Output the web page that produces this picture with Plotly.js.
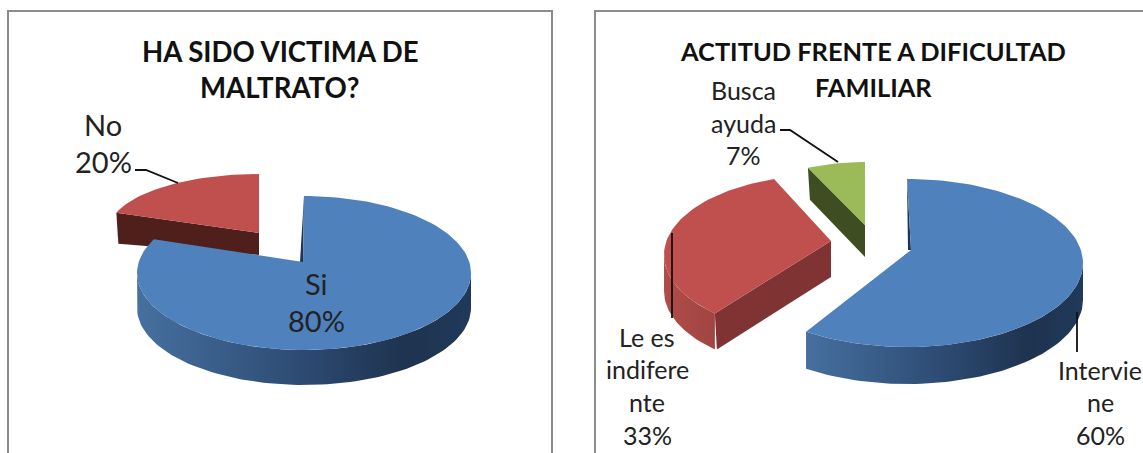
<!DOCTYPE html>
<html><head><meta charset="utf-8">
<script src="https://cdn.plot.ly/plotly-3.0.1.min.js"></script>
<style>html,body{margin:0;padding:0;background:#fff;overflow:hidden}#c{width:1143px;height:453px}</style>
</head><body><div id="c"></div>
<script>
// ---- data ----
const maltratoCategories = ['Si', 'No'];
const maltratoValues = [80, 20];
const actitudCategories = ['Interviene', 'Le es indiferente', 'Busca ayuda'];
const actitudValues = [60, 33, 7];

// ---- geometry of the 3-D look (style only) ----
const BLUE='#4f81bd', RED='#c0504d', GREEN='#9bbb59';
const blueSide=[[0,'#46709f'],[0.45,'#2f4e77'],[0.8,'#1e334f'],[1,'#20395a']];
const charts=[
 {cats:maltratoCategories, vals:maltratoValues, slices:[
   {top:BLUE, cx:304, cy:273, rx:167, ry:77, ax:303, ay:262, depth:35, endShift:8, side:blueSide, sliver:'#1f3552', z:1},
   {top:RED, cx:259, cy:230, rx:150, ry:56, ax:259, ay:233, depth:31, apexDepth:22, cut:'#4f1f1c', z:0}
 ]},
 {cats:actitudCategories, vals:actitudValues, slices:[
   {top:BLUE, cx:907, cy:263, rx:176, ry:84, ax:911, ay:250, depth:37, endShift:-1, side:blueSide, sliver:'#1f3552', z:2},
   {top:RED, cx:824, cy:255, rx:160, ry:80, ax:831, ay:241, depth:36, shift:7, side:[[0,'#b04c49'],[1,'#a04542']], cut:'#7f3332', z:1},
   {top:GREEN, cx:865, cy:222, rx:134, ry:60, ax:865, ay:225, depth:32, cut:'#3f4d22', z:0}
 ]}
];

function pt(s,deg,dy){const r=deg*Math.PI/180;return [s.cx+s.rx*Math.sin(r), s.cy-s.ry*Math.cos(r)+(dy||0)];}
function arc(s,a,b,dy){const out=[],n=Math.max(2,Math.ceil(Math.abs(b-a)/2));for(let i=0;i<=n;i++)out.push(pt(s,a+(b-a)*i/n,dy));return out;}
function poly(points,fill){
  const t={type:'scatter',mode:'lines',x:points.map(p=>p[0]),y:points.map(p=>p[1]),fill:'toself',line:{width:0,color:'rgba(0,0,0,0)'},hoverinfo:'skip',showlegend:false};
  if(typeof fill==='string')t.fillcolor=fill; else t.fillgradient={type:'horizontal',colorscale:fill};
  return t;
}
let traces=[];
charts.forEach(ch=>{
  const total=ch.vals.reduce((a,b)=>a+b,0);
  let acc=0; const built=[];
  ch.vals.forEach((v,i)=>{
    const s=ch.slices[i], shift=s.shift||0;
    const a0=acc/total*360+shift, a1=(acc+v)/total*360+(i===ch.vals.length-1?0:shift)+(s.endShift||0); acc+=v;
    const layer=[];
    const apex=[s.ax,s.ay];
    if(s.side){
      const lo=Math.max(a0,90), hi=Math.min(a1,270);
      if(hi>lo) layer.push(poly(arc(s,lo,hi,0).concat(arc(s,hi,lo,s.depth)),s.side));
    }
    if(s.cut){
      const p=pt(s,a0), d=s.apexDepth||s.depth;
      layer.push(poly([apex,p,[p[0]+2,p[1]+s.depth],[apex[0],apex[1]+d]],s.cut));
    }
    if(s.sliver){
      const p=pt(s,a0);
      layer.push(poly([p,apex,[apex[0]-3,apex[1]]],s.sliver));
    }
    layer.push(poly([apex].concat(arc(s,a0,a1,0)),s.top));
    built.push({z:s.z,layer});
  });
  built.sort((a,b)=>a.z-b.z).forEach(b=>{traces=traces.concat(b.layer);});
});

// ---- text ----
const F='Lato, Carlito, sans-serif';
const titles=[[280,51,'HA SIDO VICTIMA DE',27.6],[280,87,'MALTRATO?',27.6],[873,51,'ACTITUD FRENTE A DIFICULTAD',25.4],[873,87,'FAMILIAR',25.4]];
const labels=[
 [103,124,maltratoCategories[1],29],[103,161,maltratoValues[1]+'%',29],
 [316,283,maltratoCategories[0],29],[316,320,maltratoValues[0]+'%',29],
 [743,90,'Busca',25],[743,123,'ayuda',25],[743,155,actitudValues[2]+'%',25],
 [647,337,'Le es',25],[647,369,'indifere',25],[647,402,'nte',25],[647,435,actitudValues[1]+'%',25],
 [1100,370,'Intervie',25],[1100,402,'ne',25],[1100,435,actitudValues[0]+'%',25]
];
const ann=[];
titles.forEach(t=>ann.push({x:t[0],y:t[1],text:'<b>'+t[2]+'</b>',xref:'x',yref:'y',showarrow:false,xanchor:'center',yanchor:'middle',font:{family:F,size:t[3],color:'#111'}}));
labels.forEach(t=>ann.push({x:t[0],y:t[1],text:String(t[2]),xref:'x',yref:'y',showarrow:false,xanchor:'center',yanchor:'middle',font:{family:F,size:t[3],color:'#222'}}));

const ln=(pts)=>({type:'path',xref:'x',yref:'y',layer:'above',path:'M'+pts.map(p=>p.join(',')).join('L'),line:{color:'#111',width:1.8}});
const frame=(x0,x1)=>({type:'path',xref:'x',yref:'y',layer:'below',path:`M${x0},460L${x0},11L${x1},11L${x1},460`,line:{color:'#8c8c8c',width:2}});
const shapes=[frame(8,552),frame(595,1160),
  ln([[135,170],[146,170],[178,183]]),
  ln([[780,130],[790,130],[838,162]]),
  ln([[672,233],[672,318]]),
  ln([[1077,312],[1077,352]])];

Plotly.newPlot('c',traces,{
  width:1143,height:453,margin:{l:0,r:0,t:0,b:0},paper_bgcolor:'#fff',plot_bgcolor:'#fff',showlegend:false,
  xaxis:{range:[0,1143],visible:false,fixedrange:true},
  yaxis:{range:[453,0],visible:false,fixedrange:true},
  annotations:ann,shapes:shapes
},{displayModeBar:false,staticPlot:true});
</script></body></html>
